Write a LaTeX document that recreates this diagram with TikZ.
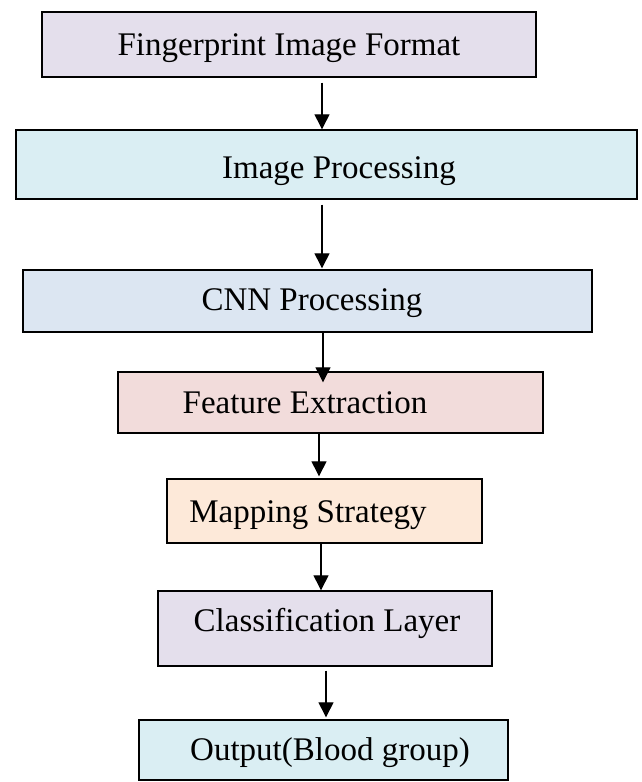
\documentclass[tikz,border=0pt]{standalone}
\usepackage{fontspec}
\setmainfont{Liberation Serif}
\usetikzlibrary{arrows.meta,calc}
\definecolor{cLav}{HTML}{E4DFEC}
\definecolor{cBlue}{HTML}{DAEEF3}
\definecolor{cSteel}{HTML}{DCE6F2}
\definecolor{cRose}{HTML}{F2DCDB}
\definecolor{cPeach}{HTML}{FDE9D9}
\tikzset{
  boxnode/.style={draw=black, line width=1.4pt, inner sep=0pt, rectangle},
  lbl/.style={anchor=base, inner sep=0pt, font=\fontsize{33}{40}\selectfont},
  arr/.style={line width=1.3pt, -{Triangle[width=15pt,length=15pt]}}
}
\newcommand{\bx}[7]{% name, x1, y1, x2, y2, fill
  \node[boxnode, fill=#6, minimum width=#4-#2, minimum height=#5-#3] (#1) at ({(#2+#4)/2},{(#3+#5)/2}) {};}
\begin{document}
\begin{tikzpicture}[x=1pt,y=-1pt]
\useasboundingbox (0,0) rectangle (641,782);
\bx{b1}{42}{12}{536}{77}{cLav}{}
\bx{b2}{16}{130}{637}{199}{cBlue}{}
\bx{b3}{23}{270}{592}{332}{cSteel}{}
\bx{b4}{118}{372}{543}{433}{cRose}{}
\bx{b5}{167}{479}{482}{543}{cPeach}{}
\bx{b6}{158}{591}{492}{666}{cLav}{}
\bx{b7}{139}{720}{508}{780}{cBlue}{}
\node[lbl] (t1) at (289,55) {Fingerprint Image Format};
\node[lbl] (t2) at (339,178) {Image Processing};
\node[lbl] (t3) at (312,310) {CNN Processing};
\node[lbl] (t4) at (305,413) {Feature Extraction};
\node[lbl] (t5) at (308,522) {Mapping Strategy};
\node[lbl] (t6) at (327,631) {Classification Layer};
\node[lbl] (t7) at (330,760) {Output(Blood group)};
\coordinate (x1) at (322,0);
\coordinate (x2) at (322,0);
\coordinate (x3) at (323,0);
\coordinate (x4) at (319,0);
\coordinate (x5) at (321,0);
\coordinate (x6) at (326,0);
\draw[arr] ($(b1.south -| x1)+(0,5)$) -- (b2.north -| x2);
\draw[arr] ($(b2.south -| x2)+(0,5)$) -- ($(b3.north -| x2)+(0,-1)$);
\draw[arr] (b3.south -| x3) -- ($(b4.north -| x3)+(0,11)$);
\draw[arr] (b4.south -| x4) -- ($(b5.north -| x4)+(0,-2)$);
\draw[arr] (b5.south -| x5) -- (b6.north -| x5);
\draw[arr] ($(b6.south -| x6)+(0,4)$) -- ($(b7.north -| x6)+(0,-2)$);
\end{tikzpicture}
\end{document}
